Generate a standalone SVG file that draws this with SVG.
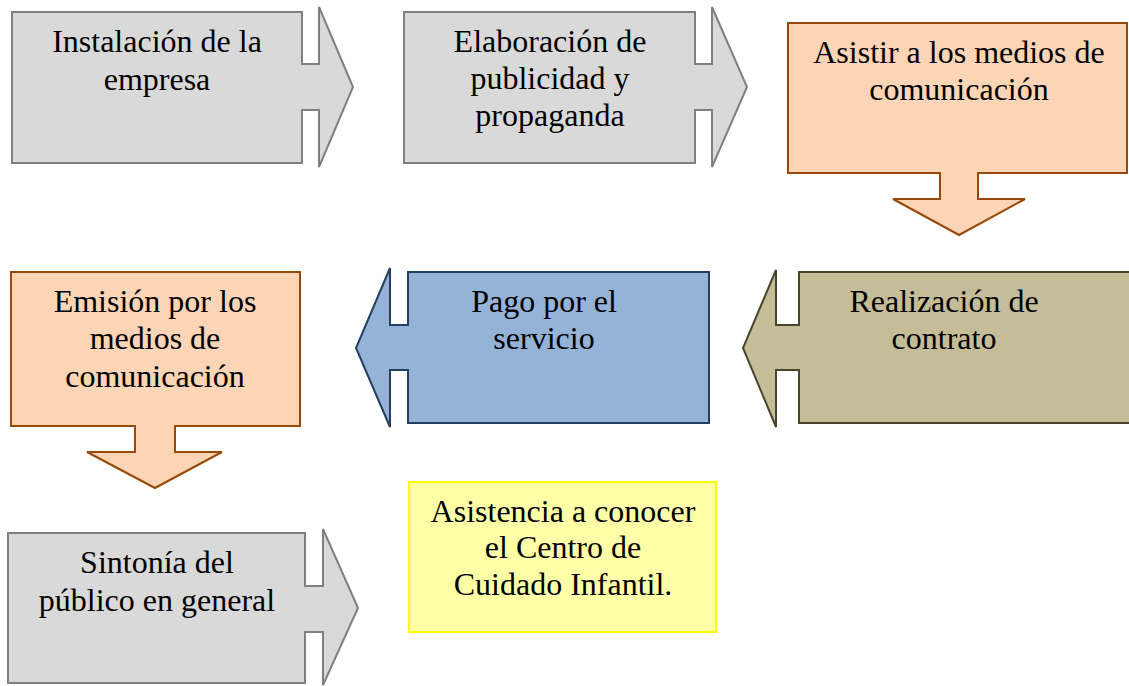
<svg xmlns="http://www.w3.org/2000/svg" width="1129" height="686" viewBox="0 0 1129 686">
<style>
text{font-family:"Liberation Serif","Times New Roman",serif;font-size:32px;fill:#000;text-anchor:middle}
.gray{fill:#d9d9d9;stroke:#808080;stroke-width:2}
.orange{fill:#fbd5b5;stroke:#984807;stroke-width:2}
.blue{fill:#95b3d7;stroke:#243f60;stroke-width:2}
.khaki{fill:#c4bd97;stroke:#4a452a;stroke-width:2}
.yellow{fill:#ffffa8;stroke:#ffff00;stroke-width:2}
</style>
<rect width="1129" height="686" fill="#fff"/>
<g id="connectors"></g>
<g id="n1">
<path class="gray" d="M12,12 H302 V64 H319 V7 L353,87 L319,167 V110 H302 V163 H12 Z"/>
<text x="157" y="52">Instalación de la</text>
<text x="157" y="90">empresa</text>
</g>
<g id="n2">
<path class="gray" d="M404,12 H695 V64 H712 V7 L747,87 L712,167 V110 H695 V163 H404 Z"/>
<text x="550" y="52">Elaboración de</text>
<text x="550" y="89">publicidad y</text>
<text x="550" y="126">propaganda</text>
</g>
<g id="n3">
<path class="orange" d="M788,23 H1127 V173 H978 V199 H1025 L959,235 L893,199 H940 V173 H788 Z"/>
<text x="959" y="63">Asistir a los medios de</text>
<text x="959" y="100">comunicación</text>
</g>
<g id="n4">
<path class="orange" d="M11,272 H300 V426 H175 V452 H222 L155,488 L87,452 H135 V426 H11 Z"/>
<text x="155" y="312">Emisión por los</text>
<text x="155" y="349">medios de</text>
<text x="155" y="387">comunicación</text>
</g>
<g id="n5">
<path class="blue" d="M709,272 H408 V325 H390 V268 L356,348 L390,427 V370 H408 V423 H709 Z"/>
<text x="544" y="312">Pago por el</text>
<text x="544" y="349">servicio</text>
</g>
<g id="n6">
<path class="khaki" d="M1140,272 H799 V325 H776 V270 L743,348 L776,427 V370 H799 V423 H1140 Z"/>
<text x="944" y="312">Realización de</text>
<text x="944" y="349">contrato</text>
</g>
<g id="n7">
<path class="gray" d="M8,533 H305 V586 H323 V529 L358,608 L323,685 V632 H305 V683 H8 Z"/>
<text x="157" y="573">Sintonía del</text>
<text x="157" y="611">público en general</text>
</g>
<g id="n8">
<rect class="yellow" x="409" y="482" width="307" height="150"/>
<text x="563" y="522">Asistencia a conocer</text>
<text x="563" y="558">el Centro de</text>
<text x="563" y="595">Cuidado Infantil.</text>
</g>
</svg>
